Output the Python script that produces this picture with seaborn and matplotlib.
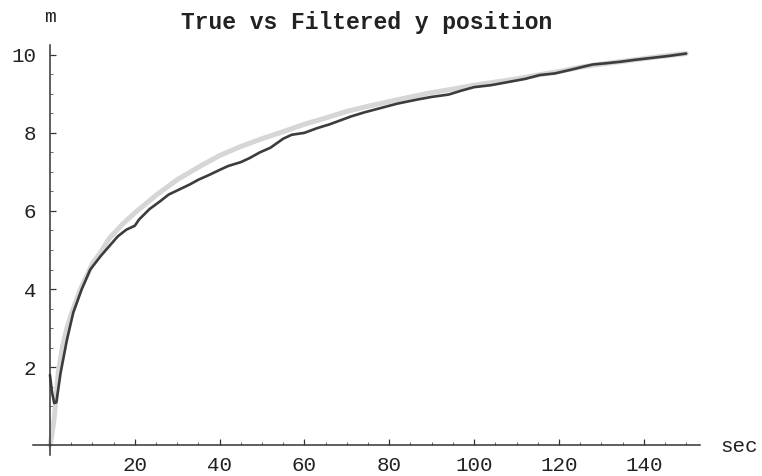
import matplotlib
matplotlib.use("Agg")
import matplotlib.pyplot as plt
import seaborn as sns
import pandas as pd
import numpy as np
from matplotlib.ticker import MultipleLocator

# ---- data ----
true_t = [0, 0.5, 1, 1.5, 2, 3, 4, 5, 7, 10, 12, 14, 17, 20, 25, 30, 35, 40, 45, 50,
          55, 60, 65, 70, 75, 80, 85, 90, 95, 100, 105, 110, 115, 120, 125, 130, 135,
          140, 145, 150]
true_y = [0.0, 0.3, 0.7, 1.3, 1.9, 2.55, 3.0, 3.35, 3.95, 4.65, 4.95, 5.3, 5.65, 5.95,
          6.4, 6.8, 7.12, 7.42, 7.65, 7.85, 8.03, 8.22, 8.38, 8.55, 8.68, 8.8, 8.92,
          9.03, 9.12, 9.22, 9.3, 9.38, 9.48, 9.57, 9.68, 9.76, 9.83, 9.9, 9.97, 10.03]

filt_t = [0, 0.5, 1, 1.5, 2.5, 4, 5.5, 7.5, 9.5, 12, 14, 16, 18, 20, 21, 23.5, 26, 28,
          30.5, 33, 35, 37.5, 40, 42, 45, 47, 49.5, 52, 55, 57, 60, 63, 66, 68, 71, 74,
          78.5, 82, 86.5, 90, 94, 97, 100, 104, 108, 112, 115.5, 119, 123, 126, 128,
          131, 134.5, 138, 142, 146, 150]
filt_y = [1.8, 1.35, 1.08, 1.1, 1.85, 2.7, 3.4, 4.0, 4.5, 4.85, 5.1, 5.35, 5.52, 5.62,
          5.78, 6.05, 6.25, 6.42, 6.55, 6.68, 6.8, 6.92, 7.05, 7.15, 7.25, 7.35, 7.5,
          7.62, 7.85, 7.95, 8.0, 8.12, 8.22, 8.3, 8.42, 8.52, 8.65, 8.75, 8.85, 8.92,
          8.98, 9.08, 9.17, 9.22, 9.3, 9.38, 9.48, 9.52, 9.62, 9.7, 9.75, 9.78, 9.82,
          9.87, 9.92, 9.97, 10.03]

x_ticks = [20, 40, 60, 80, 100, 120, 140]
y_ticks = [2, 4, 6, 8, 10]
title = "True vs Filtered y position"
x_label = "sec"
y_label = "m"

# ---- plotting ----
sns.set_style("white")
mono = ["Liberation Mono", "DejaVu Sans Mono"]
plt.rcParams["font.family"] = mono

W, H = 762, 476
fig = plt.figure(figsize=(W / 100, H / 100), dpi=100)

# axes placed in pixel coords: x=-4 -> px 33, x=153.5 -> px 701 ; y=-0.3 -> px 457, y=10.3 -> px 43
x0, x1 = 33, 701
ytop, ybot = 43, 457
ax = fig.add_axes([x0 / W, (H - ybot) / H, (x1 - x0) / W, (ybot - ytop) / H])
ax.set_xlim(-4, 153.5)
ax.set_ylim(-0.3, 10.3)

df_true = pd.DataFrame({"t": true_t, "y": true_y})
df_filt = pd.DataFrame({"t": filt_t, "y": filt_y})
sns.lineplot(data=df_true, x="t", y="y", ax=ax, color="#d6d6d6", linewidth=3.6,
             sort=False, estimator=None)
sns.lineplot(data=df_filt, x="t", y="y", ax=ax, color="#3c3c3c", linewidth=1.9,
             sort=False, estimator=None)

for s in ["top", "right"]:
    ax.spines[s].set_visible(False)
axc = "#333333"
ax.spines["left"].set_position(("data", 0))
ax.spines["bottom"].set_position(("data", 0))
ax.spines["left"].set_bounds(-0.25, 10.25)
ax.spines["bottom"].set_bounds(-4, 153.3)
for s in ["left", "bottom"]:
    ax.spines[s].set_color(axc)
    ax.spines[s].set_linewidth(1.1)

ax.set_xticks(x_ticks)
ax.set_xticklabels([str(v) for v in x_ticks])
ax.set_yticks(y_ticks)
ax.set_yticklabels([str(v) for v in y_ticks])
ax.xaxis.set_minor_locator(MultipleLocator(5))
ax.yaxis.set_minor_locator(MultipleLocator(0.5))
ax.tick_params(axis="both", which="major", direction="in", length=4, width=0.9,
               color=axc, labelsize=15, labelcolor="#222222")
ax.tick_params(axis="both", which="minor", direction="in", length=2.2, width=0.7,
               color="#666666")
ax.tick_params(axis="x", which="major", pad=8, bottom=True)
ax.tick_params(axis="y", which="major", pad=10, left=True)
ax.tick_params(axis="x", which="minor", bottom=True)
ax.tick_params(axis="y", which="minor", left=True)
ax.set_xlabel("")
ax.set_ylabel("")

fig.text(367 / W, 1 - 22 / H, title, ha="center", va="center", fontsize=16.6,
         fontweight="bold", family=mono, color="#222222")
fig.text(720 / W, 1 - 446 / H, x_label, ha="left", va="center", fontsize=15,
         family=mono, color="#222222")
fig.text(50 / W, 1 - 17 / H, y_label, ha="center", va="center", fontsize=14,
         family=mono, color="#222222")

fig.savefig("out.png", dpi=100)
